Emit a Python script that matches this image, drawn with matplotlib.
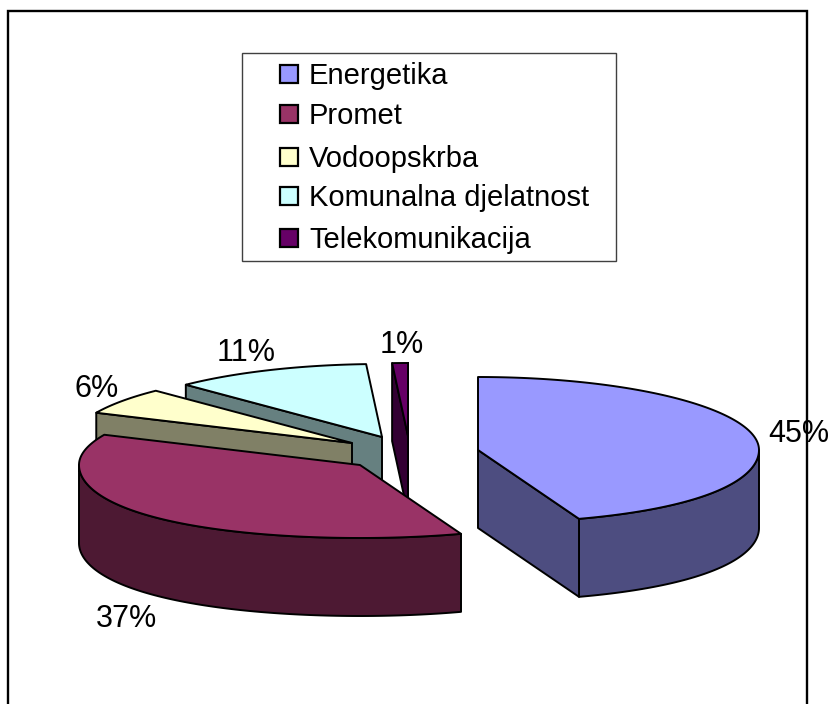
import numpy as np
import matplotlib
matplotlib.use('Agg')
import matplotlib.pyplot as plt
from matplotlib.patches import Polygon, Rectangle

plt.rcParams['font.family'] = ['Liberation Sans', 'DejaVu Sans']

# Chart values
categories = ['Energetika', 'Promet', 'Vodoopskrba', 'Komunalna djelatnost', 'Telekomunikacija']
shares = [44.6, 37.2, 5.9, 11.4, 0.9]
pct_labels = ['45%', '37%', '6%', '11%', '1%']
top_colors = ['#9999FF', '#993366', '#FFFFCC', '#CCFFFF', '#660066']
side_colors = ['#4D4D80', '#4D1933', '#808066', '#668080', '#330033']

# Layout in image pixels (y goes down), text y is the baseline
centers = [(478, 450), (360, 465), (352, 443), (382, 437), (408, 436)]
label_pos = [(768, 442), (96, 627), (75, 397), (217, 361), (380, 353)]
legend_rows = [74, 114, 157, 196, 238]
RX, RY, DEPTH = 281, 73, 78
PERSP = 0.09  # near edge of the pie is drawn a bit wider
LW = 1.4


def rim(cx, cy, t0, t1):
    # clockwise from 12 o'clock, squashed circle
    t = np.radians(np.linspace(t0, t1, max(int(abs(t1 - t0)) + 2, 2)))
    near = np.clip(-np.cos(t), 0, None) ** 2
    return np.column_stack([cx + RX * np.sin(t) * (1 + PERSP * near), cy - RY * np.cos(t)])


fig = plt.figure(figsize=(8.32, 7.04), dpi=100)
ax = fig.add_axes([0, 0, 1, 1])
ax.set_xlim(0, 832)
ax.set_ylim(704, 0)
ax.axis('off')

ax.add_patch(Rectangle((8, 11), 799, 720, fc='white', ec='black', lw=1.7))

angles = np.cumsum([0] + shares) / sum(shares) * 360
down = np.array([0, DEPTH])

# back slices first, the big front ones go on top
for i in [3, 4, 2, 1, 0]:
    t0, t1 = angles[i], angles[i + 1]
    cx, cy = centers[i]
    kw = dict(ec='black', lw=LW, joinstyle='round', fc=side_colors[i])

    # outer wall, only the part that faces the viewer
    a, b = max(t0, 90), min(t1, 270)
    if a < b:
        arc = rim(cx, cy, a, b)
        ax.add_patch(Polygon(np.vstack([arc, arc[::-1] + down]), **kw))

    # cut faces
    c = np.array([cx, cy], dtype=float)
    if np.sin(np.radians(t0)) < 0:
        p = rim(cx, cy, t0, t0 + 0.01)[0]
        ax.add_patch(Polygon([c, p, p + down, c + down], **kw))
    if np.sin(np.radians(t1)) > 0:
        p = rim(cx, cy, t1, t1 + 0.01)[0]
        ax.add_patch(Polygon([c, p, p + down, c + down], **kw))

    top = np.vstack([c, rim(cx, cy, t0, t1)])
    ax.add_patch(Polygon(top, fc=top_colors[i], ec='black', lw=LW, joinstyle='round'))

for txt, (x, y) in zip(pct_labels, label_pos):
    ax.text(x, y, txt, fontsize=22, color='black', ha='left', va='baseline')

# legend box
ax.add_patch(Rectangle((242, 53), 374, 208, fc='white', ec='#404040', lw=1.0))
for name, col, y in zip(categories, top_colors, legend_rows):
    ax.add_patch(Rectangle((280, y - 9), 18, 18, fc=col, ec='black', lw=1.6))
    ax.text(309, y + 10, name, fontsize=21, color='black', ha='left', va='baseline')

fig.savefig('out.png', dpi=100)
